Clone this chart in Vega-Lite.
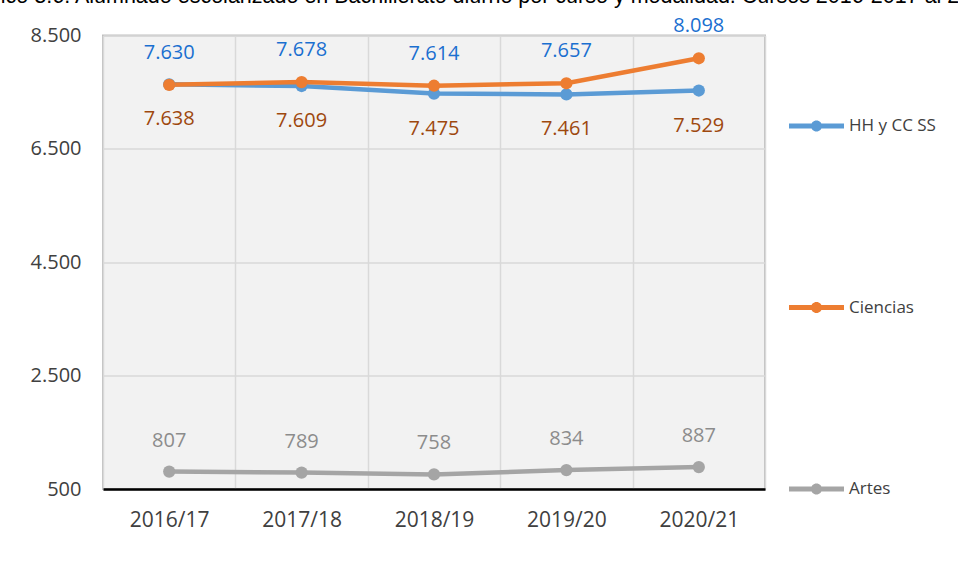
{
  "$schema": "https://vega.github.io/schema/vega-lite/v6.json",
  "width": 662,
  "height": 453.5,
  "autosize": {"type": "none"},
  "padding": {"left": 103, "top": 35.5, "right": 193, "bottom": 90},
  "background": "white",
  "title": {
    "text": "Gráfico 3.6. Alumnado escolarizado en Bachillerato diurno por curso y modalidad. Cursos 2016-2017 al 2020-2021",
    "anchor": "start",
    "frame": "group",
    "dx": -144,
    "dy": 8,
    "offset": 0,
    "baseline": "alphabetic",
    "font": "Liberation Sans",
    "fontSize": 21.5,
    "fontWeight": "normal",
    "color": "#000000"
  },
  "config": {
    "locale": {"number": {"decimal": ",", "thousands": ".", "grouping": [3], "currency": ["", " €"]}},
    "view": {"fill": "#f2f2f2", "stroke": "#bfbfbf", "strokeWidth": 2},
    "font": "Open Sans"
  },
  "data": {
    "values": [
      {"curso": "2016/17", "serie": "HH y CC SS", "valor": 7638},
      {"curso": "2017/18", "serie": "HH y CC SS", "valor": 7609},
      {"curso": "2018/19", "serie": "HH y CC SS", "valor": 7475},
      {"curso": "2019/20", "serie": "HH y CC SS", "valor": 7461},
      {"curso": "2020/21", "serie": "HH y CC SS", "valor": 7529},
      {"curso": "2016/17", "serie": "Ciencias", "valor": 7630},
      {"curso": "2017/18", "serie": "Ciencias", "valor": 7678},
      {"curso": "2018/19", "serie": "Ciencias", "valor": 7614},
      {"curso": "2019/20", "serie": "Ciencias", "valor": 7657},
      {"curso": "2020/21", "serie": "Ciencias", "valor": 8098},
      {"curso": "2016/17", "serie": "Artes", "valor": 807},
      {"curso": "2017/18", "serie": "Artes", "valor": 789},
      {"curso": "2018/19", "serie": "Artes", "valor": 758},
      {"curso": "2019/20", "serie": "Artes", "valor": 834},
      {"curso": "2020/21", "serie": "Artes", "valor": 887}
    ]
  },
  "encoding": {
    "x": {
      "field": "curso",
      "type": "ordinal",
      "scale": {"type": "band", "paddingInner": 0, "paddingOuter": 0},
      "axis": {
        "title": null,
        "labelAngle": 0,
        "tickBand": "extent",
        "ticks": false,
        "grid": true,
        "gridColor": "#d9d9d9",
        "gridWidth": 1.5,
        "domainColor": "#000000",
        "domainWidth": 2.5,
        "labelFont": "Open Sans",
        "labelFontSize": 21,
        "labelColor": "#404040",
        "labelPadding": 20
      }
    },
    "y": {
      "field": "valor",
      "type": "quantitative",
      "scale": {"domain": [500, 8500], "nice": false, "zero": false},
      "axis": {
        "title": null,
        "values": [500, 2500, 4500, 6500, 8500],
        "format": ",d",
        "domain": false,
        "ticks": false,
        "grid": true,
        "gridColor": "#d9d9d9",
        "gridWidth": 1.5,
        "labelFont": "Open Sans",
        "labelFontSize": 20,
        "labelColor": "#404040",
        "labelPadding": 22
      }
    }
  },
  "layer": [
    {
      "mark": {"type": "line", "strokeWidth": 4.5, "point": {"size": 150, "filled": true, "opacity": 1}},
      "encoding": {
        "color": {
          "field": "serie",
          "type": "nominal",
          "sort": ["HH y CC SS", "Ciencias", "Artes"],
          "scale": {"domain": ["HH y CC SS", "Ciencias", "Artes"], "range": ["#5B9BD5", "#ED7D31", "#A5A5A5"]},
          "legend": {
            "title": null,
            "orient": "none",
            "legendX": 686,
            "legendY": 63,
            "direction": "vertical",
            "padding": 0,
            "symbolType": "M-1,-0.09H1V0.09H-1Z M-0.2,0A0.2,0.2,0,1,1,0.2,0A0.2,0.2,0,1,1,-0.2,0Z",
            "symbolSize": 3025,
            "symbolStrokeWidth": 0,
            "symbolOpacity": 1,
            "labelFont": "Open Sans",
            "labelFontSize": 17,
            "labelColor": "#404040",
            "labelOffset": 5,
            "rowPadding": 145.5,
            "encode": {
              "symbols": {
                "update": {
                  "fill": {"scale": "color", "field": "value"},
                  "stroke": {"value": "transparent"},
                  "opacity": {"value": 1}
                }
              }
            }
          }
        }
      }
    },
    {
      "transform": [{"filter": "datum.serie === 'Ciencias'"}],
      "mark": {"type": "text", "dy": -32, "fontSize": 20, "font": "Open Sans", "color": "#1A6FD0"},
      "encoding": {"text": {"field": "valor", "type": "quantitative", "format": ",d"}}
    },
    {
      "transform": [{"filter": "datum.serie === 'HH y CC SS'"}],
      "mark": {"type": "text", "dy": 35, "fontSize": 20, "font": "Open Sans", "color": "#9E480E"},
      "encoding": {"text": {"field": "valor", "type": "quantitative", "format": ",d"}}
    },
    {
      "transform": [{"filter": "datum.serie === 'Artes'"}],
      "mark": {"type": "text", "dy": -31, "fontSize": 20, "font": "Open Sans", "color": "#8C8C8C"},
      "encoding": {"text": {"field": "valor", "type": "quantitative", "format": ",d"}}
    }
  ]
}
